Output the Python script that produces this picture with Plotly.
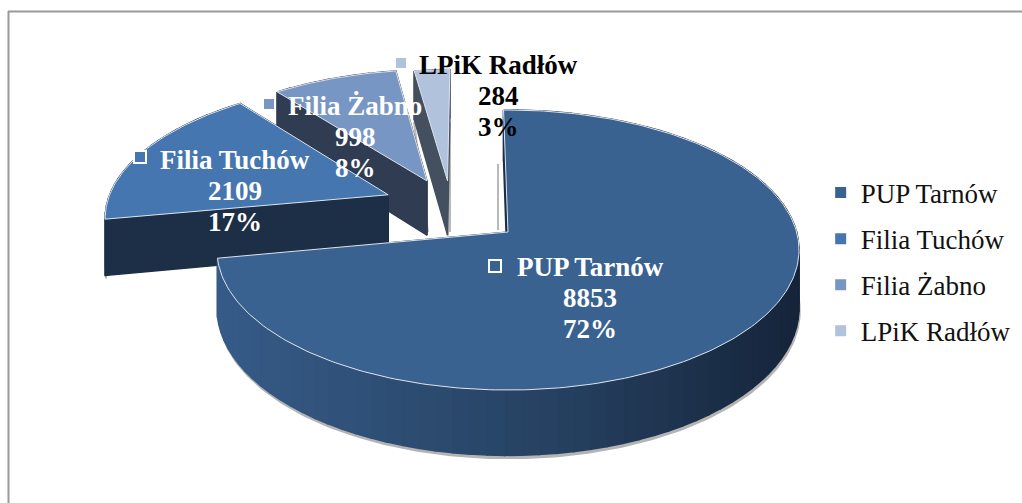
import math
import plotly.graph_objects as go

# ---- data ----
categories = ["PUP Tarnów", "Filia Tuchów", "Filia Żabno", "LPiK Radłów"]
values = [8853, 2109, 998, 284]
percent_labels = ["72%", "17%", "8%", "3%"]

# ---- style ----
top_colors = ["#3a6291", "#4676b0", "#7896c4", "#b1c2dd"]
wall_colors = ["#1c2f46", "#1c2f46", "#303c51", "#444f5f"]
side_colors = ["#25405f", "#1f3550", "#303c51", "#444f5f"]
label_colors = ["white", "white", "white", "black"]
label_xy = [(590, 298), (235, 191), (355, 137), (498, 96)]
key_xy = [(495, 266), (140, 157), (269, 104), (401, 63)]
LINE_GAP = 31
# explosion of every slice, in units of the disc radius (right, towards viewer)
explode = [(0, 0), (-0.43, -0.28), (-0.295, -0.39), (-0.22, -0.39)]

# ---- projection of the tilted disc ----
APEX_X, APEX_Y = 508, 232
R_X, R_Y = 288.6, 137.7
PERSP = 0.1286
DEPTH = 57
START = -1.0


def project(u, v, drop=0.0):
    s = 1 / (1 - PERSP * v)
    return APEX_X + R_X * u * s, APEX_Y + (R_Y * v + drop) * s


def rim(theta, off, drop=0.0):
    t = math.radians(theta)
    return project(math.sin(t) + off[0], -math.cos(t) + off[1], drop)


def arc(a, b, off, drop=0.0, step=1.0):
    n = max(2, int(abs(b - a) / step) + 1)
    return [rim(a + (b - a) * i / (n - 1), off, drop) for i in range(n)]


def mix(c1, c2, f):
    p = [int(c1[i:i + 2], 16) for i in (1, 3, 5)]
    q = [int(c2[i:i + 2], 16) for i in (1, 3, 5)]
    return "#%02x%02x%02x" % tuple(round(a + (b - a) * f) for a, b in zip(p, q))


def side_shade(x):
    f = min(1, max(0, (x - 218) / (800 - 218)))
    if f < 0.6:
        return mix("#365b88", "#25405f", f / 0.6)
    return mix("#25405f", "#15243a", (f - 0.6) / 0.4)


fig = go.Figure()


def poly(pts, fill, line=None, width=0):
    xs = [p[0] for p in pts] + [pts[0][0]]
    ys = [p[1] for p in pts] + [pts[0][1]]
    fig.add_trace(go.Scatter(
        x=xs, y=ys, mode="lines", fill="toself", fillcolor=fill,
        line=dict(color=line or fill, width=width if line else 1.5),
        hoverinfo="skip", showlegend=False))


total = sum(values)
angles = []
a = START
for val in values:
    angles.append((a, a + 360 * val / total))
    a += 360 * val / total


def draw_slice(i):
    a0, a1 = angles[i]
    off = explode[i]
    apex_top = project(off[0], off[1])
    apex_low = project(off[0], off[1], DEPTH)
    # soft shadow below the rim
    low = arc(max(a0, 90), min(a1, 270), off, DEPTH)
    if i < 2:
        shadow = [(x + 1, y + 3) for x, y in low] + list(reversed(low))
        poly(shadow, "#b4b4b4")
    # far wall
    poly([rim(a1, off), apex_top, apex_low, rim(a1, off, DEPTH)], wall_colors[i])
    # outer side
    step = 3.0
    n = max(1, int((a1 - a0) / step))
    for k in range(n):
        b0 = a0 + (a1 - a0) * k / n
        b1 = a0 + (a1 - a0) * (k + 1) / n
        if i == 0:
            colour = side_shade(rim((b0 + b1) / 2, off)[0])
        else:
            colour = side_colors[i]
        poly(arc(b0, b1, off) + arc(b1, b0, off, DEPTH), colour)
    # near wall
    poly([rim(a0, off), apex_top, apex_low, rim(a0, off, DEPTH)], wall_colors[i])
    # top face
    poly([apex_top] + arc(a0, a1, off), top_colors[i], "#dfe5ee", 1)


for idx in (3, 2, 1, 0):
    draw_slice(idx)

# keys of the data labels
for i, name in enumerate(categories):
    fig.add_trace(go.Scatter(
        x=[key_xy[i][0]], y=[key_xy[i][1]], mode="markers",
        marker=dict(symbol="square", size=12, color=top_colors[i],
                    line=dict(color="white", width=2)),
        hoverinfo="skip", showlegend=False))

# legend
for i, name in enumerate(categories):
    fig.add_trace(go.Scatter(
        x=[None], y=[None], mode="markers", name=name, legendgroup=name,
        marker=dict(symbol="square", size=11, color=top_colors[i]),
        hoverinfo="skip"))

# data labels, one annotation per line to keep the tight line spacing
for i, name in enumerate(categories):
    for row, text in enumerate([name, str(values[i]), percent_labels[i]]):
        fig.add_annotation(
            x=label_xy[i][0], y=label_xy[i][1] + (row - 1) * LINE_GAP,
            xref="x", yref="y", text=f"<b>{text}</b>",
            showarrow=False, align="center", xanchor="center", yanchor="middle",
            font=dict(family="Liberation Serif", size=27, color=label_colors[i]))

border = dict(color="#9a9a9a", width=2)
grey = dict(color="#b9b9b9", width=2)
shapes = [
    dict(type="line", x0=8.5, x1=8.5, y0=11, y1=503, xref="x", yref="y", line=border),
    dict(type="line", x0=8, x1=1022, y0=11.5, y1=11.5, xref="x", yref="y", line=border),
    dict(type="line", x0=450, x1=450, y0=122, y1=232, xref="x", yref="y", line=grey, layer="below"),
    dict(type="line", x0=498, x1=498, y0=164, y1=230, xref="x", yref="y", line=grey, layer="below"),
    dict(type="line", x0=414, x1=428, y0=122, y1=232, xref="x", yref="y", line=grey, layer="below"),
]

fig.update_layout(
    width=1022, height=503,
    margin=dict(l=0, r=0, t=0, b=0),
    paper_bgcolor="white", plot_bgcolor="white",
    xaxis=dict(range=[0, 1022], visible=False, fixedrange=True),
    yaxis=dict(range=[503, 0], visible=False, fixedrange=True),
    shapes=shapes,
    showlegend=True,
    legend=dict(x=0.803, y=0.665, xanchor="left", yanchor="top",
                bgcolor="rgba(0,0,0,0)", tracegroupgap=8, itemwidth=30,
                font=dict(family="Liberation Serif", size=27, color="#111111")),
)

fig.write_html("out.html", config={"displayModeBar": False},
               post_script="document.body.style.margin='0';")
